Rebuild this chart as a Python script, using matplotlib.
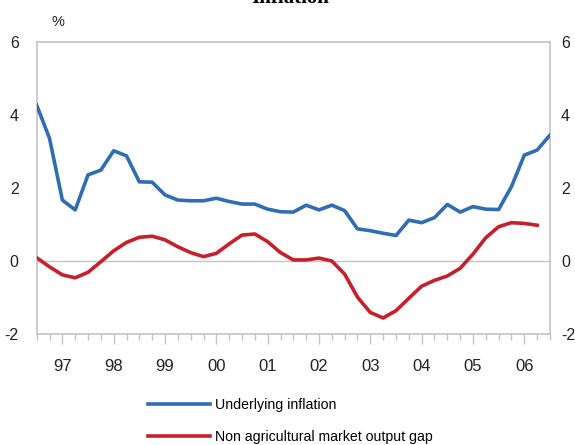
import numpy as np
import matplotlib
matplotlib.use("Agg")
import matplotlib.pyplot as plt
from matplotlib.ticker import MultipleLocator, FixedLocator

plt.rcParams["font.family"] = ["Liberation Sans", "DejaVu Sans"]
plt.rcParams["axes.unicode_minus"] = False

# quarterly data, first point 1996 Q3
start_year = 1996.5
underlying_inflation = [4.27, 3.36, 1.67, 1.40, 2.36, 2.49, 3.02, 2.88, 2.17, 2.16,
                        1.81, 1.67, 1.65, 1.65, 1.72, 1.63, 1.56, 1.56, 1.42, 1.35,
                        1.34, 1.53, 1.40, 1.53, 1.38, 0.88, 0.83, 0.76, 0.70, 1.12,
                        1.05, 1.19, 1.55, 1.34, 1.49, 1.42, 1.41, 2.04, 2.90, 3.04,
                        3.45]
output_gap = [0.09, -0.16, -0.38, -0.46, -0.31, -0.02, 0.28, 0.51, 0.65, 0.68,
              0.58, 0.39, 0.23, 0.12, 0.21, 0.47, 0.71, 0.74, 0.53, 0.23,
              0.03, 0.03, 0.08, 0.00, -0.36, -0.99, -1.41, -1.56, -1.36, -1.02,
              -0.69, -0.53, -0.41, -0.20, 0.19, 0.64, 0.94, 1.05, 1.03, 0.98]
year_labels = ["97", "98", "99", "00", "01", "02", "03", "04", "05", "06"]
y_ticks = [-2, 0, 2, 4, 6]
series_names = ["Underlying inflation", "Non agricultural market output gap"]

x_infl = start_year + 0.25 * np.arange(len(underlying_inflation))
x_gap = start_year + 0.25 * np.arange(len(output_gap))

grey = "#c4c4c4"
blue = "#2f6db5"
red = "#c8202b"
txt = "#222222"

fig = plt.figure(figsize=(5.75, 4.45), dpi=100)
ax = fig.add_axes([0.0638, 0.2494, 0.8927, 0.6562])

ax.axhline(0, color=grey, lw=1, zorder=1)
l1, = ax.plot(x_infl, underlying_inflation, color=blue, lw=2.6, zorder=3,
              solid_joinstyle="round")
l2, = ax.plot(x_gap, output_gap, color=red, lw=2.6, zorder=3,
              solid_joinstyle="round")

ax.set_xlim(start_year, start_year + 10)
ax.set_ylim(-2, 6)
for s in ax.spines.values():
    s.set_color(grey)
    s.set_linewidth(1.2)

# x axis: yearly labels, quarterly ticks
ax.xaxis.set_major_locator(FixedLocator(np.arange(1997, 2007)))
ax.xaxis.set_minor_locator(MultipleLocator(0.25))
ax.set_xticklabels(year_labels)
ax.tick_params(axis="x", which="major", length=7, width=1, color=grey,
               labelsize=12, pad=11, labelcolor=txt)
ax.tick_params(axis="x", which="minor", length=4, width=1, color=grey)

# y axis labels on both sides
ax.set_yticks(y_ticks)
ax.tick_params(axis="y", length=0, labelsize=11.5, labelcolor=txt, pad=13)
sec = ax.secondary_yaxis("right")
sec.set_yticks(y_ticks)
sec.tick_params(axis="y", length=0, labelsize=11.5, labelcolor=txt, pad=8)
sec.spines["right"].set_visible(False)

fig.text(58 / 575, 1 - 22 / 445, "%", fontsize=10.5, color=txt,
         ha="center", va="center")
# title is cropped at the top edge in the original
fig.text(290 / 575, 1.004, "Inflation", fontsize=15, fontweight="bold",
         family="Liberation Serif", ha="center", va="center")

fig.legend([l1, l2], series_names, loc="upper left",
           bbox_to_anchor=(148 / 575, 1 - 398 / 445), frameon=False,
           fontsize=10.2, handlelength=4.4, handletextpad=0.3,
           labelspacing=1.3, borderpad=0, borderaxespad=0)

fig.savefig("out.png", dpi=100)
